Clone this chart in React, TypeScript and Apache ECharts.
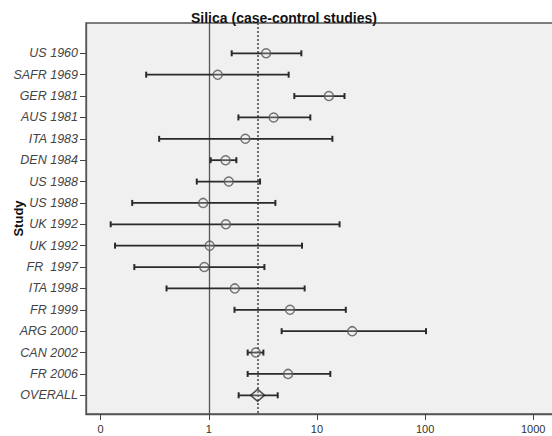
import React, { useEffect, useRef } from "react";
import * as echarts from "echarts";

const studies = [
  "US 1960", "SAFR 1969", "GER 1981", "AUS 1981", "ITA 1983", "DEN 1984",
  "US 1988", "US 1988", "UK 1992", "UK 1992", "FR  1997", "ITA 1998",
  "FR 1999", "ARG 2000", "CAN 2002", "FR 2006", "OVERALL",
];
const estimates = [3.39, 1.21, 12.9, 3.98, 2.18, 1.43, 1.53, 0.887, 1.44, 1.02, 0.91, 1.74, 5.64, 21.2, 2.72, 5.41, 2.83];
const lowers = [1.63, 0.264, 6.18, 1.88, 0.348, 1.04, 0.775, 0.196, 0.124, 0.136, 0.205, 0.407, 1.73, 4.72, 2.29, 2.29, 1.89];
const uppers = [7.18, 5.48, 18.0, 8.69, 13.9, 1.8, 2.98, 4.13, 16.2, 7.28, 3.27, 7.7, 18.5, 102, 3.2, 13.3, 4.34];
const xTickValues = [0.1, 1, 10, 100, 1000];
const xTickLabels = ["0", "1", "10", "100", "1000"];
const nullValue = 1;
const titleText = "Silica (case-control studies)";
const yAxisTitle = "Study";

const FONT = "'Liberation Sans', Arial, sans-serif";

export default function App() {
  const ref = useRef<HTMLDivElement>(null);
  useEffect(() => {
    if (!ref.current) return;
    const chart = echarts.init(ref.current, null, { renderer: "svg" });
    const n = studies.length;
    const overallIdx = n - 1;
    const barData = studies.map((_, i) => [lowers[i], uppers[i], i]);
    const pointData = studies.slice(0, overallIdx).map((_, i) => [estimates[i], i]);
    const overallData = [[estimates[overallIdx], overallIdx]];
    const yIdx = studies.map((_, i) => i);

    chart.setOption({
      animation: false,
      title: {
        text: titleText,
        left: 186,
        top: 6,
        textStyle: { fontFamily: FONT, fontSize: 14, fontWeight: "bold", color: "#111" },
      },
      grid: {
        left: 86,
        right: -10,
        top: 23,
        bottom: 22,
        containLabel: false,
        outerBoundsMode: "none",
        show: true,
        backgroundColor: "#f0f0f0",
        borderColor: "#555",
        borderWidth: 1.3,
      },
      xAxis: {
        type: "log",
        logBase: 10,
        min: 0.0733,
        max: 1845,
        splitLine: { show: false },
        axisLine: { show: true, onZero: false, lineStyle: { color: "#555", width: 1.3 } },
        axisTick: { show: true, length: 6, customValues: xTickValues, lineStyle: { color: "#444" } },
        axisLabel: {
          customValues: xTickValues,
          margin: 9,
          fontFamily: FONT,
          fontSize: 11,
          color: "#333",
          formatter: (v: number) => {
            const k = xTickValues.findIndex((t) => Math.abs(Math.log10(t) - Math.log10(v)) < 1e-6);
            return k >= 0 ? xTickLabels[k] : "";
          },
        },
      },
      yAxis: {
        type: "value",
        inverse: true,
        min: -1.418,
        max: 16.875,
        name: yAxisTitle,
        nameLocation: "middle",
        nameGap: 61,
        nameMoveOverlap: false,
        nameTextStyle: { fontFamily: FONT, fontSize: 13, fontWeight: "bold", color: "#111" },
        splitLine: { show: false },
        axisLine: { show: true, onZero: false, lineStyle: { color: "#555", width: 1.3 } },
        axisTick: { show: true, length: 6, customValues: yIdx, lineStyle: { color: "#444" } },
        axisLabel: {
          customValues: yIdx,
          margin: 8,
          fontFamily: FONT,
          fontSize: 12.5,
          fontStyle: "italic",
          color: "#444",
          formatter: (v: number) => studies[Math.round(v)] ?? "",
        },
      },
      series: [
        {
          type: "custom",
          data: barData,
          encode: { x: [0, 1], y: 2 },
          renderItem: (params: any, api: any) => {
            const lo = api.coord([api.value(0), api.value(2)]);
            const hi = api.coord([api.value(1), api.value(2)]);
            const style = { stroke: "#2a2a2a", lineWidth: 1.8 };
            const cap = 3;
            return {
              type: "group",
              children: [
                { type: "line", shape: { x1: lo[0], y1: lo[1], x2: hi[0], y2: hi[1] }, style },
                { type: "line", shape: { x1: lo[0], y1: lo[1] - cap, x2: lo[0], y2: lo[1] + cap }, style: { ...style, lineWidth: 2 } },
                { type: "line", shape: { x1: hi[0], y1: hi[1] - cap, x2: hi[0], y2: hi[1] + cap }, style: { ...style, lineWidth: 2 } },
              ],
            };
          },
          z: 2,
        },
        {
          type: "scatter",
          data: pointData,
          symbol: "circle",
          symbolSize: 9,
          itemStyle: { color: "rgba(240,240,240,0.3)", borderColor: "#555", borderWidth: 1.5 },
          z: 3,
          markLine: {
            silent: true,
            symbol: "none",
            label: { show: false },
            data: [
              { xAxis: nullValue, lineStyle: { color: "#555", width: 1.3, type: "solid" } },
              { xAxis: estimates[overallIdx], lineStyle: { color: "#444", width: 1.5, type: [2, 2] } },
            ],
            z: 1,
          },
        },
        {
          type: "scatter",
          data: overallData,
          symbol: "diamond",
          symbolSize: [14, 12],
          itemStyle: { color: "rgba(240,240,240,0.3)", borderColor: "#222", borderWidth: 1.5 },
          z: 3,
        },
      ],
    });
    return () => chart.dispose();
  }, []);
  return (
    <div
      ref={ref}
      style={{ position: "absolute", left: 0, top: 0, width: 552, height: 436, background: "#fff" }}
    />
  );
}
